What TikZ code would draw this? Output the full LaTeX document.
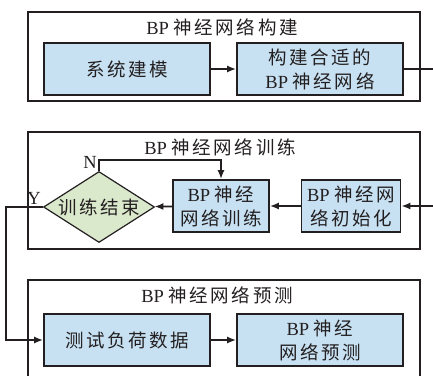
\documentclass[tikz,border=0pt]{standalone}
\usepackage{fontspec}
\setmainfont{Liberation Serif}
\newfontfamily\cjk[LetterSpace=14]{Noto Sans CJK SC}
\usetikzlibrary{shapes.geometric,arrows.meta}
\definecolor{boxblue}{RGB}{199,225,243}
\definecolor{decgreen}{RGB}{218,232,204}
\definecolor{inkgray}{RGB}{35,31,32}
\newcommand{\zh}[1]{{\cjk #1}}
\tikzset{every node/.style={font=\fontsize{18.5}{24}\selectfont, text=inkgray},
    groupbox/.style={draw=inkgray, line width=1.7pt, minimum width=392pt, inner sep=0pt},
    stepbox/.style={draw=inkgray, fill=boxblue, line width=1.7pt,
        minimum height=52pt, align=center, inner sep=0pt},
    decision/.style={diamond, draw=inkgray, fill=decgreen, line width=1.2pt,
        aspect=1.56, minimum width=111pt, minimum height=71pt, inner sep=0pt},
    flow/.style={draw=inkgray, line width=1.7pt, -{Latex[length=9pt,width=7pt]}},
    }

\begin{document}
\begin{tikzpicture}[x=1pt, y=-1pt]
	\useasboundingbox (0,0) rectangle (433,375);
	% BP network construction
	\node[groupbox, minimum height=89pt] (grpA) at (224,56.5) {};
	\node (titleA) at (222,27) {BP\ \zh{神经网络构建}};
	\node[stepbox, minimum width=166pt] (sysmod) at (127,69) {\zh{系统建模}};
	\node[stepbox, minimum width=166pt] (build) at (320,69) {\zh{构建合适的}\\BP\ \zh{神经网络}};
	% BP network training
	\node[groupbox, minimum height=117pt] (grpB) at (224,190.5) {};
	\node (titleB) at (220,147) {BP\ \zh{神经网络训练}};
	\node[decision] (dec) at (99,207) {\zh{训练结束}};
	\node[stepbox, minimum width=96pt] (train) at (221,206) {BP\ \zh{神经}\\\zh{网络训练}};
	\node[stepbox, minimum width=99pt] (init) at (351,206) {BP\ \zh{神经网}\\\zh{络初始化}};
	\node[anchor=south east, inner sep=2pt] (nlab) at (dec.north) {N};
	\node[anchor=south east, inner sep=2pt] (ylab) at (dec.west) {Y};
	% BP network prediction
	\node[groupbox, minimum height=110pt] (grpC) at (224,335) {};
	\node (titleC) at (217,295) {BP\ \zh{神经网络预测}};
	\node[stepbox, minimum width=166pt] (test) at (127,340) {\zh{测试负荷数据}};
	\node[stepbox, minimum width=166pt] (pred) at (320,340) {BP\ \zh{神经}\\\zh{网络预测}};
	% connectors
	\coordinate (rside) at (445,0);
	\coordinate (lside) at (6,0);
	\draw[flow] (sysmod) -- (build);
	\draw[flow] (build.east) -- (build.east -| rside) |- (init.east);
	\draw[flow] (init) -- (train);
	\draw[flow] (train) -- (dec);
	\draw[flow] (dec.north) -- ++(0,-11) -| (train.north);
	\draw[flow] (dec.west) -- (dec.west -| lside) |- (test.west);
	\draw[flow] (test) -- (pred);
\end{tikzpicture}
\end{document}
